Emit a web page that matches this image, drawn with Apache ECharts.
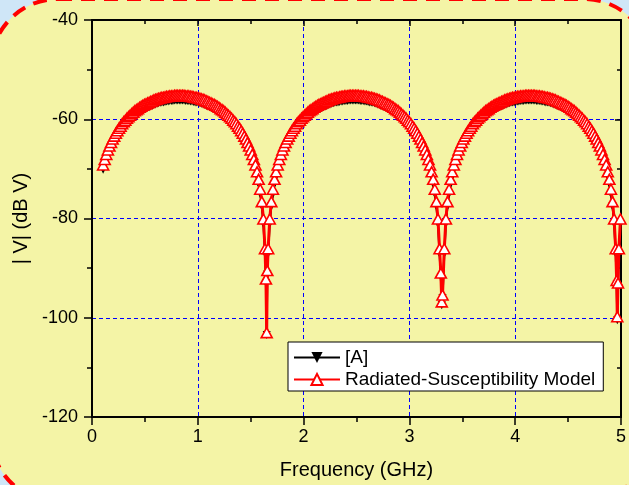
<!DOCTYPE html>
<html>
<head>
<meta charset="utf-8">
<script src="https://cdn.jsdelivr.net/npm/echarts@6/dist/echarts.min.js"></script>
<style>
  html, body { margin: 0; padding: 0; background: #cfe6f7; }
  #chart { width: 629px; height: 485px; }
</style>
</head>
<body>
<div id="chart"></div>
<script>
// frequency points (GHz)
const freq = [
  0.105, 0.12, 0.135, 0.15, 0.165, 0.18, 0.195, 0.21, 0.225, 0.24,
  0.255, 0.27, 0.285, 0.3, 0.315, 0.33, 0.345, 0.36, 0.375, 0.39,
  0.405, 0.42, 0.435, 0.45, 0.465, 0.48, 0.495, 0.51, 0.525, 0.54,
  0.555, 0.57, 0.585, 0.6, 0.615, 0.63, 0.645, 0.66, 0.675, 0.69,
  0.705, 0.72, 0.735, 0.75, 0.765, 0.78, 0.795, 0.81, 0.825, 0.84,
  0.855, 0.87, 0.885, 0.9, 0.915, 0.93, 0.945, 0.96, 0.975, 0.99,
  1.005, 1.02, 1.035, 1.05, 1.065, 1.08, 1.095, 1.11, 1.125, 1.14,
  1.155, 1.17, 1.185, 1.2, 1.215, 1.23, 1.245, 1.26, 1.275, 1.29,
  1.305, 1.32, 1.335, 1.35, 1.365, 1.38, 1.395, 1.41, 1.425, 1.44,
  1.455, 1.47, 1.485, 1.5, 1.515, 1.53, 1.545, 1.56, 1.575, 1.59,
  1.605, 1.62, 1.635,
  1.644, 1.651, 1.657,
  1.665, 1.68, 1.695, 1.71, 1.725, 1.74, 1.755, 1.77, 1.785, 1.8,
  1.815, 1.83, 1.845, 1.86, 1.875, 1.89, 1.905, 1.92, 1.935, 1.95,
  1.965, 1.98, 1.995, 2.01, 2.025, 2.04, 2.055, 2.07, 2.085, 2.1,
  2.115, 2.13, 2.145, 2.16, 2.175, 2.19, 2.205, 2.22, 2.235, 2.25,
  2.265, 2.28, 2.295, 2.31, 2.325, 2.34, 2.355, 2.37, 2.385, 2.4,
  2.415, 2.43, 2.445, 2.46, 2.475, 2.49, 2.505, 2.52, 2.535, 2.55,
  2.565, 2.58, 2.595, 2.61, 2.625, 2.64, 2.655, 2.67, 2.685, 2.7,
  2.715, 2.73, 2.745, 2.76, 2.775, 2.79, 2.805, 2.82, 2.835, 2.85,
  2.865, 2.88, 2.895, 2.91, 2.925, 2.94, 2.955, 2.97, 2.985, 3.0,
  3.015, 3.03, 3.045, 3.06, 3.075, 3.09, 3.105, 3.12, 3.135, 3.15,
  3.165, 3.18, 3.195, 3.21, 3.225, 3.24, 3.255, 3.27, 3.285,
  3.297, 3.306, 3.313,
  3.33, 3.345, 3.36, 3.375, 3.39, 3.405, 3.42, 3.435, 3.45,
  3.465, 3.48, 3.495, 3.51, 3.525, 3.54, 3.555, 3.57, 3.585, 3.6,
  3.615, 3.63, 3.645, 3.66, 3.675, 3.69, 3.705, 3.72, 3.735, 3.75,
  3.765, 3.78, 3.795, 3.81, 3.825, 3.84, 3.855, 3.87, 3.885, 3.9,
  3.915, 3.93, 3.945, 3.96, 3.975, 3.99, 4.005, 4.02, 4.035, 4.05,
  4.065, 4.08, 4.095, 4.11, 4.125, 4.14, 4.155, 4.17, 4.185, 4.2,
  4.215, 4.23, 4.245, 4.26, 4.275, 4.29, 4.305, 4.32, 4.335, 4.35,
  4.365, 4.38, 4.395, 4.41, 4.425, 4.44, 4.455, 4.47, 4.485, 4.5,
  4.515, 4.53, 4.545, 4.56, 4.575, 4.59, 4.605, 4.62, 4.635, 4.65,
  4.665, 4.68, 4.695, 4.71, 4.725, 4.74, 4.755, 4.77, 4.785, 4.8,
  4.815, 4.83, 4.845, 4.86, 4.875, 4.89, 4.905, 4.92, 4.935, 4.95,
  4.959, 4.965, 4.972,
  4.98, 4.995
];

// [A] (black, down triangles), dB V
const measured = [
  -70.2, -69.1, -68.1, -67.2,
  -66.4, -65.7, -65.0, -64.4, -63.8, -63.3, -62.8, -62.4, -61.9, -61.5,
  -61.2, -60.8, -60.5, -60.2, -59.9, -59.6, -59.3, -59.1, -58.9, -58.6,
  -58.4, -58.2, -58.0, -57.9, -57.7, -57.6, -57.4, -57.3, -57.1, -57.0,
  -56.9, -56.8, -56.7, -56.6, -56.6, -56.5, -56.4, -56.4, -56.3, -56.3,
  -56.3, -56.2, -56.2, -56.2, -56.2,
  -56.2, -56.2, -56.2, -56.3, -56.3,
  -56.3, -56.4, -56.4, -56.5, -56.6, -56.6, -56.7, -56.8, -56.9, -57.0,
  -57.1, -57.3, -57.4, -57.6, -57.7, -57.9, -58.0, -58.2, -58.4, -58.6,
  -58.9, -59.1, -59.3, -59.6, -59.9, -60.2, -60.5, -60.8, -61.2, -61.5,
  -61.9, -62.4, -62.8, -63.3, -63.8, -64.4, -65.0, -65.7, -66.4, -67.2,
  -68.1, -69.1, -70.2, -71.6, -73.1, -75.1, -77.6, -81.1, -87.1,
  -93.0, -103.5, -91.3,
  -87.1, -81.1, -77.6, -75.1, -73.1, -71.6, -70.2, -69.1, -68.1, -67.2,
  -66.4, -65.7, -65.0, -64.4, -63.8, -63.3, -62.8, -62.4, -61.9, -61.5,
  -61.2, -60.8, -60.5, -60.2, -59.9, -59.6, -59.3, -59.1, -58.9, -58.6,
  -58.4, -58.2, -58.0, -57.9, -57.7, -57.6, -57.4, -57.3, -57.1, -57.0,
  -56.9, -56.8, -56.7, -56.6, -56.6, -56.5, -56.4, -56.4, -56.3, -56.3,
  -56.3, -56.2, -56.2, -56.2, -56.2,
  -56.2, -56.2, -56.2, -56.3, -56.3,
  -56.3, -56.4, -56.4, -56.5, -56.6, -56.6, -56.7, -56.8, -56.9, -57.0,
  -57.1, -57.3, -57.4, -57.6, -57.7, -57.9, -58.0, -58.2, -58.4, -58.6,
  -58.9, -59.1, -59.3, -59.6, -59.9, -60.2, -60.5, -60.8, -61.2, -61.5,
  -61.9, -62.4, -62.8, -63.3, -63.8, -64.4, -65.0, -65.7, -66.4, -67.2,
  -68.1, -69.1, -70.2, -71.6, -73.1, -75.1, -77.6, -81.1, -87.1,
  -91.8, -97.5, -96.0,
  -87.1, -81.1, -77.6, -75.1, -73.1, -71.6, -70.2, -69.1, -68.1, -67.2,
  -66.4, -65.7, -65.0, -64.4, -63.8, -63.3, -62.8, -62.4, -61.9, -61.5,
  -61.2, -60.8, -60.5, -60.2, -59.9, -59.6, -59.3, -59.1, -58.9, -58.6,
  -58.4, -58.2, -58.0, -57.9, -57.7, -57.6, -57.4, -57.3, -57.1, -57.0,
  -56.9, -56.8, -56.7, -56.6, -56.6, -56.5, -56.4, -56.4, -56.3, -56.3,
  -56.3, -56.2, -56.2, -56.2, -56.2,
  -56.2, -56.2, -56.2, -56.3, -56.3,
  -56.3, -56.4, -56.4, -56.5, -56.6, -56.6, -56.7, -56.8, -56.9, -57.0,
  -57.1, -57.3, -57.4, -57.6, -57.7, -57.9, -58.0, -58.2, -58.4, -58.6,
  -58.9, -59.1, -59.3, -59.6, -59.9, -60.2, -60.5, -60.8, -61.2, -61.5,
  -61.9, -62.4, -62.8, -63.3, -63.8, -64.4, -65.0, -65.7, -66.4, -67.2,
  -68.1, -69.1, -70.2, -71.6, -73.1, -75.1, -77.6, -81.1, -87.1,
  -93.3, -100.5, -93.8,
  -87.1, -81.1
];

// Radiated-Susceptibility Model (red, open up triangles), dB V
const model = [
  -69.2, -68.1, -67.1, -66.2,
  -65.4, -64.7, -64.0, -63.4, -62.8, -62.3, -61.8, -61.4, -60.9, -60.5,
  -60.2, -59.8, -59.5, -59.2, -58.9, -58.6, -58.3, -58.1, -57.9, -57.6,
  -57.4, -57.2, -57.0, -56.9, -56.7, -56.6, -56.4, -56.3, -56.1, -56.0,
  -55.9, -55.8, -55.7, -55.6, -55.6, -55.5, -55.4, -55.4, -55.3, -55.3,
  -55.3, -55.2, -55.2, -55.2, -55.2,
  -55.2, -55.2, -55.2, -55.3, -55.3,
  -55.3, -55.4, -55.4, -55.5, -55.6, -55.6, -55.7, -55.8, -55.9, -56.0,
  -56.1, -56.3, -56.4, -56.6, -56.7, -56.9, -57.0, -57.2, -57.4, -57.6,
  -57.9, -58.1, -58.3, -58.6, -58.9, -59.2, -59.5, -59.8, -60.2, -60.5,
  -60.9, -61.4, -61.8, -62.3, -62.8, -63.4, -64.0, -64.7, -65.4, -66.2,
  -67.1, -68.1, -69.2, -70.6, -72.1, -74.1, -76.6, -80.1, -86.1,
  -92.2, -103.0, -90.5,
  -86.1, -80.1, -76.6, -74.1, -72.1, -70.6, -69.2, -68.1, -67.1, -66.2,
  -65.4, -64.7, -64.0, -63.4, -62.8, -62.3, -61.8, -61.4, -60.9, -60.5,
  -60.2, -59.8, -59.5, -59.2, -58.9, -58.6, -58.3, -58.1, -57.9, -57.6,
  -57.4, -57.2, -57.0, -56.9, -56.7, -56.6, -56.4, -56.3, -56.1, -56.0,
  -55.9, -55.8, -55.7, -55.6, -55.6, -55.5, -55.4, -55.4, -55.3, -55.3,
  -55.3, -55.2, -55.2, -55.2, -55.2,
  -55.2, -55.2, -55.2, -55.3, -55.3,
  -55.3, -55.4, -55.4, -55.5, -55.6, -55.6, -55.7, -55.8, -55.9, -56.0,
  -56.1, -56.3, -56.4, -56.6, -56.7, -56.9, -57.0, -57.2, -57.4, -57.6,
  -57.9, -58.1, -58.3, -58.6, -58.9, -59.2, -59.5, -59.8, -60.2, -60.5,
  -60.9, -61.4, -61.8, -62.3, -62.8, -63.4, -64.0, -64.7, -65.4, -66.2,
  -67.1, -68.1, -69.2, -70.6, -72.1, -74.1, -76.6, -80.1, -86.1,
  -91.0, -96.8, -95.4,
  -86.1, -80.1, -76.6, -74.1, -72.1, -70.6, -69.2, -68.1, -67.1, -66.2,
  -65.4, -64.7, -64.0, -63.4, -62.8, -62.3, -61.8, -61.4, -60.9, -60.5,
  -60.2, -59.8, -59.5, -59.2, -58.9, -58.6, -58.3, -58.1, -57.9, -57.6,
  -57.4, -57.2, -57.0, -56.9, -56.7, -56.6, -56.4, -56.3, -56.1, -56.0,
  -55.9, -55.8, -55.7, -55.6, -55.6, -55.5, -55.4, -55.4, -55.3, -55.3,
  -55.3, -55.2, -55.2, -55.2, -55.2,
  -55.2, -55.2, -55.2, -55.3, -55.3,
  -55.3, -55.4, -55.4, -55.5, -55.6, -55.6, -55.7, -55.8, -55.9, -56.0,
  -56.1, -56.3, -56.4, -56.6, -56.7, -56.9, -57.0, -57.2, -57.4, -57.6,
  -57.9, -58.1, -58.3, -58.6, -58.9, -59.2, -59.5, -59.8, -60.2, -60.5,
  -60.9, -61.4, -61.8, -62.3, -62.8, -63.4, -64.0, -64.7, -65.4, -66.2,
  -67.1, -68.1, -69.2, -70.6, -72.1, -74.1, -76.6, -80.1, -86.1,
  -92.5, -99.8, -93.0,
  -86.1, -80.1
];

const seriesNames = ['[A]', 'Radiated-Susceptibility Model'];

const font = 'Liberation Sans, Arial, Helvetica, sans-serif';
const gridLine = { show: true, lineStyle: { color: '#0000ff', width: 1, type: [4, 3] } };

const chart = echarts.init(document.getElementById('chart'), null, { renderer: 'canvas' });

// shared look for the four frame axes
function frameAxis(extra) {
  return Object.assign({
    type: 'value',
    axisLine: { show: true, onZero: false, lineStyle: { color: '#000', width: 2 } },
    axisTick: { show: true, length: 8, lineStyle: { color: '#000', width: 1.5 } },
    minorTick: { show: true, splitNumber: 2, length: 5, lineStyle: { color: '#000', width: 1.5 } },
    splitLine: { show: false },
    axisLabel: { show: false }
  }, extra);
}

const option = {
  animation: false,
  backgroundColor: '#cfe6f7',
  graphic: [{
    type: 'rect',
    z: -10,
    silent: true,
    shape: { x: -9, y: -1, width: 660, height: 503, r: 67 },
    style: { fill: '#f4f4a6', stroke: '#ff0000', lineWidth: 4, lineDash: [14, 9] }
  }],
  grid: { left: 92, right: 4, top: 20, bottom: 68 },
  legend: {
    data: seriesNames,
    orient: 'vertical',
    left: 288,
    top: 342,
    itemWidth: 46,
    itemHeight: 14,
    itemGap: 3,
    padding: [6, 8, 2, 5],
    backgroundColor: '#fff',
    borderColor: '#000',
    borderWidth: 1,
    textStyle: { fontSize: 19, color: '#000', fontFamily: font }
  },
  xAxis: [
    frameAxis({
      position: 'bottom', min: 0, max: 5, interval: 1,
      axisLabel: { show: true, fontSize: 18, color: '#000', margin: 11, fontFamily: font },
      splitLine: gridLine,
      name: 'Frequency (GHz)', nameLocation: 'middle', nameGap: 43,
      nameTextStyle: { fontSize: 20, color: '#000', fontFamily: font }
    }),
    frameAxis({
      position: 'top', min: 0, max: 5, interval: 1,
      axisTick: { show: true, inside: true, length: 6, lineStyle: { color: '#000', width: 1.5 } },
      minorTick: { show: true, splitNumber: 2, length: 4, lineStyle: { color: '#000', width: 1.5 } }
    })
  ],
  yAxis: [
    frameAxis({
      position: 'left', min: -120, max: -40, interval: 20,
      axisLabel: { show: true, fontSize: 18, color: '#000', margin: 14, fontFamily: font },
      splitLine: gridLine,
      name: '| V| (dB V)', nameLocation: 'middle', nameGap: 56, nameRotate: 90,
      nameTextStyle: { fontSize: 20, color: '#000', fontFamily: font }
    }),
    frameAxis({
      position: 'right', min: -120, max: -40, interval: 20,
      axisTick: { show: true, inside: true, length: 6, lineStyle: { color: '#000', width: 1.5 } },
      minorTick: { show: true, splitNumber: 2, length: 4, lineStyle: { color: '#000', width: 1.5 } }
    })
  ],
  series: [
    {
      name: seriesNames[0],
      type: 'line',
      data: freq.map((f, i) => [f, measured[i]]),
      symbol: 'triangle',
      symbolRotate: 180,
      symbolSize: 8,
      lineStyle: { color: '#000', width: 2 },
      itemStyle: { color: '#000' },
      z: 3
    },
    {
      name: seriesNames[1],
      type: 'line',
      data: freq.map((f, i) => [f, model[i]]),
      symbol: 'triangle',
      symbolSize: [11, 10],
      lineStyle: { color: '#ff0000', width: 3 },
      itemStyle: { color: '#fff', borderColor: '#ff0000', borderWidth: 1.6 },
      z: 4
    }
  ]
};

chart.setOption(option);
</script>
</body>
</html>
